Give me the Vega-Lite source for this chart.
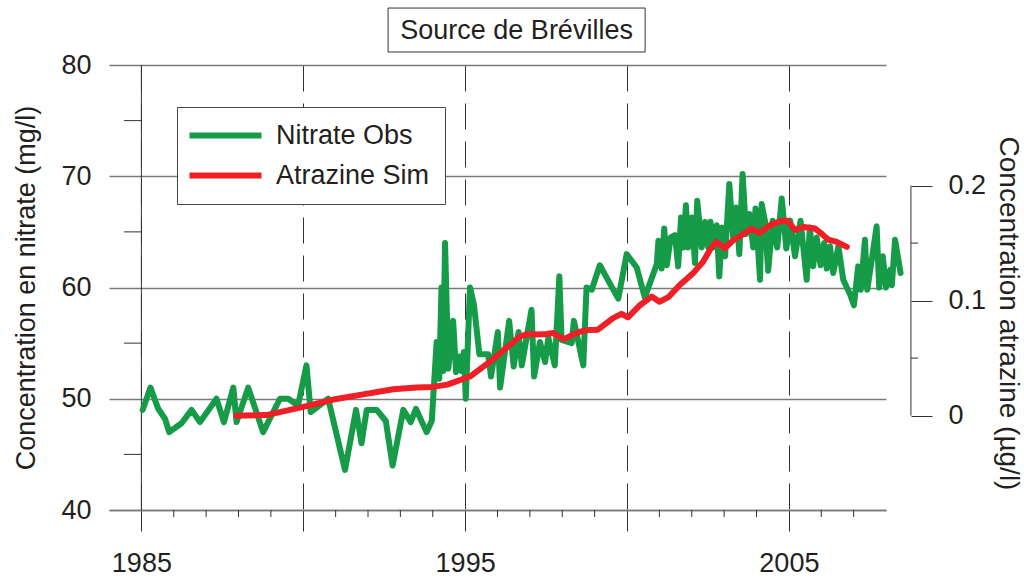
{
  "$schema": "https://vega.github.io/schema/vega-lite/v6.json",
  "width": 777,
  "height": 445,
  "autosize": {"type": "none"},
  "padding": {"left": 109, "top": 65, "right": 138, "bottom": 69},
  "background": "white",
  "config": {
    "font": "Liberation Sans",
    "view": {"stroke": null},
    "axis": {"labelFont": "Liberation Sans", "titleFont": "Liberation Sans", "labelFontSize": 27, "titleFontSize": 27, "labelColor": "#231f20", "titleColor": "#231f20", "titleFontWeight": "normal"}
  },
  "datasets": {
    "nitrate": [
      {"t":1985.04,"n":49.0,"s":"Nitrate Obs"},{"t":1985.28,"n":51.0,"s":"Nitrate Obs"},{"t":1985.52,"n":49.1,"s":"Nitrate Obs"},{"t":1985.73,"n":48.2,"s":"Nitrate Obs"},{"t":1985.86,"n":47.0,"s":"Nitrate Obs"},{"t":1986.24,"n":47.8,"s":"Nitrate Obs"},{"t":1986.55,"n":49.0,"s":"Nitrate Obs"},{"t":1986.81,"n":47.9,"s":"Nitrate Obs"},{"t":1987.32,"n":50.0,"s":"Nitrate Obs"},{"t":1987.55,"n":47.9,"s":"Nitrate Obs"},{"t":1987.84,"n":51.0,"s":"Nitrate Obs"},{"t":1987.94,"n":47.9,"s":"Nitrate Obs"},{"t":1988.30,"n":51.0,"s":"Nitrate Obs"},{"t":1988.76,"n":47.0,"s":"Nitrate Obs"},{"t":1989.28,"n":50.0,"s":"Nitrate Obs"},{"t":1989.54,"n":50.0,"s":"Nitrate Obs"},{"t":1989.84,"n":49.4,"s":"Nitrate Obs"},{"t":1990.10,"n":53.0,"s":"Nitrate Obs"},{"t":1990.23,"n":48.8,"s":"Nitrate Obs"},{"t":1990.77,"n":50.0,"s":"Nitrate Obs"},{"t":1991.29,"n":43.6,"s":"Nitrate Obs"},{"t":1991.63,"n":49.0,"s":"Nitrate Obs"},{"t":1991.80,"n":46.0,"s":"Nitrate Obs"},{"t":1991.96,"n":49.0,"s":"Nitrate Obs"},{"t":1992.27,"n":49.0,"s":"Nitrate Obs"},{"t":1992.55,"n":48.0,"s":"Nitrate Obs"},{"t":1992.76,"n":44.0,"s":"Nitrate Obs"},{"t":1993.09,"n":49.0,"s":"Nitrate Obs"},{"t":1993.32,"n":47.9,"s":"Nitrate Obs"},{"t":1993.48,"n":49.1,"s":"Nitrate Obs"},{"t":1993.81,"n":47.0,"s":"Nitrate Obs"},{"t":1993.97,"n":48.0,"s":"Nitrate Obs"},{"t":1994.12,"n":55.1,"s":"Nitrate Obs"},{"t":1994.20,"n":51.8,"s":"Nitrate Obs"},{"t":1994.27,"n":60.0,"s":"Nitrate Obs"},{"t":1994.32,"n":52.5,"s":"Nitrate Obs"},{"t":1994.38,"n":64.0,"s":"Nitrate Obs"},{"t":1994.48,"n":52.7,"s":"Nitrate Obs"},{"t":1994.63,"n":57.0,"s":"Nitrate Obs"},{"t":1994.72,"n":52.4,"s":"Nitrate Obs"},{"t":1994.82,"n":53.8,"s":"Nitrate Obs"},{"t":1994.89,"n":52.5,"s":"Nitrate Obs"},{"t":1994.96,"n":54.2,"s":"Nitrate Obs"},{"t":1995.02,"n":50.0,"s":"Nitrate Obs"},{"t":1995.15,"n":60.0,"s":"Nitrate Obs"},{"t":1995.27,"n":58.5,"s":"Nitrate Obs"},{"t":1995.44,"n":54.0,"s":"Nitrate Obs"},{"t":1995.71,"n":54.0,"s":"Nitrate Obs"},{"t":1995.80,"n":52.0,"s":"Nitrate Obs"},{"t":1996.01,"n":56.0,"s":"Nitrate Obs"},{"t":1996.08,"n":51.0,"s":"Nitrate Obs"},{"t":1996.36,"n":57.0,"s":"Nitrate Obs"},{"t":1996.50,"n":52.9,"s":"Nitrate Obs"},{"t":1996.65,"n":56.0,"s":"Nitrate Obs"},{"t":1996.75,"n":53.0,"s":"Nitrate Obs"},{"t":1997.05,"n":58.0,"s":"Nitrate Obs"},{"t":1997.13,"n":52.0,"s":"Nitrate Obs"},{"t":1997.31,"n":55.1,"s":"Nitrate Obs"},{"t":1997.47,"n":53.3,"s":"Nitrate Obs"},{"t":1997.57,"n":55.5,"s":"Nitrate Obs"},{"t":1997.77,"n":53.0,"s":"Nitrate Obs"},{"t":1997.91,"n":61.0,"s":"Nitrate Obs"},{"t":1997.98,"n":55.3,"s":"Nitrate Obs"},{"t":1998.29,"n":55.0,"s":"Nitrate Obs"},{"t":1998.36,"n":57.0,"s":"Nitrate Obs"},{"t":1998.65,"n":53.0,"s":"Nitrate Obs"},{"t":1998.75,"n":60.0,"s":"Nitrate Obs"},{"t":1998.91,"n":59.8,"s":"Nitrate Obs"},{"t":1999.16,"n":62.0,"s":"Nitrate Obs"},{"t":1999.73,"n":59.0,"s":"Nitrate Obs"},{"t":1999.99,"n":63.0,"s":"Nitrate Obs"},{"t":2000.30,"n":61.8,"s":"Nitrate Obs"},{"t":2000.55,"n":59.1,"s":"Nitrate Obs"},{"t":2000.92,"n":62.1,"s":"Nitrate Obs"},{"t":2000.97,"n":64.2,"s":"Nitrate Obs"},{"t":2001.07,"n":61.7,"s":"Nitrate Obs"},{"t":2001.15,"n":65.3,"s":"Nitrate Obs"},{"t":2001.23,"n":62.0,"s":"Nitrate Obs"},{"t":2001.35,"n":64.5,"s":"Nitrate Obs"},{"t":2001.48,"n":64.7,"s":"Nitrate Obs"},{"t":2001.58,"n":61.9,"s":"Nitrate Obs"},{"t":2001.67,"n":66.3,"s":"Nitrate Obs"},{"t":2001.74,"n":63.6,"s":"Nitrate Obs"},{"t":2001.82,"n":67.4,"s":"Nitrate Obs"},{"t":2001.89,"n":63.6,"s":"Nitrate Obs"},{"t":2002.00,"n":66.3,"s":"Nitrate Obs"},{"t":2002.10,"n":62.2,"s":"Nitrate Obs"},{"t":2002.17,"n":67.8,"s":"Nitrate Obs"},{"t":2002.31,"n":63.6,"s":"Nitrate Obs"},{"t":2002.41,"n":65.9,"s":"Nitrate Obs"},{"t":2002.51,"n":63.6,"s":"Nitrate Obs"},{"t":2002.58,"n":65.9,"s":"Nitrate Obs"},{"t":2002.66,"n":63.6,"s":"Nitrate Obs"},{"t":2002.77,"n":65.6,"s":"Nitrate Obs"},{"t":2002.85,"n":61.0,"s":"Nitrate Obs"},{"t":2002.94,"n":65.4,"s":"Nitrate Obs"},{"t":2003.03,"n":62.8,"s":"Nitrate Obs"},{"t":2003.16,"n":69.3,"s":"Nitrate Obs"},{"t":2003.28,"n":64.5,"s":"Nitrate Obs"},{"t":2003.37,"n":67.2,"s":"Nitrate Obs"},{"t":2003.47,"n":63.0,"s":"Nitrate Obs"},{"t":2003.57,"n":70.2,"s":"Nitrate Obs"},{"t":2003.68,"n":64.8,"s":"Nitrate Obs"},{"t":2003.78,"n":66.6,"s":"Nitrate Obs"},{"t":2003.90,"n":63.6,"s":"Nitrate Obs"},{"t":2003.97,"n":67.1,"s":"Nitrate Obs"},{"t":2004.11,"n":60.7,"s":"Nitrate Obs"},{"t":2004.16,"n":67.5,"s":"Nitrate Obs"},{"t":2004.26,"n":66.0,"s":"Nitrate Obs"},{"t":2004.36,"n":61.5,"s":"Nitrate Obs"},{"t":2004.50,"n":66.0,"s":"Nitrate Obs"},{"t":2004.64,"n":63.6,"s":"Nitrate Obs"},{"t":2004.78,"n":68.0,"s":"Nitrate Obs"},{"t":2004.92,"n":63.5,"s":"Nitrate Obs"},{"t":2005.04,"n":66.0,"s":"Nitrate Obs"},{"t":2005.19,"n":62.8,"s":"Nitrate Obs"},{"t":2005.36,"n":66.0,"s":"Nitrate Obs"},{"t":2005.55,"n":60.7,"s":"Nitrate Obs"},{"t":2005.65,"n":65.4,"s":"Nitrate Obs"},{"t":2005.75,"n":61.9,"s":"Nitrate Obs"},{"t":2005.86,"n":64.5,"s":"Nitrate Obs"},{"t":2005.98,"n":62.0,"s":"Nitrate Obs"},{"t":2006.09,"n":64.0,"s":"Nitrate Obs"},{"t":2006.17,"n":61.7,"s":"Nitrate Obs"},{"t":2006.27,"n":63.7,"s":"Nitrate Obs"},{"t":2006.37,"n":61.3,"s":"Nitrate Obs"},{"t":2006.53,"n":63.7,"s":"Nitrate Obs"},{"t":2006.68,"n":60.7,"s":"Nitrate Obs"},{"t":2006.79,"n":60.0,"s":"Nitrate Obs"},{"t":2006.89,"n":59.4,"s":"Nitrate Obs"},{"t":2007.01,"n":58.4,"s":"Nitrate Obs"},{"t":2007.14,"n":61.9,"s":"Nitrate Obs"},{"t":2007.22,"n":59.8,"s":"Nitrate Obs"},{"t":2007.35,"n":64.3,"s":"Nitrate Obs"},{"t":2007.42,"n":59.8,"s":"Nitrate Obs"},{"t":2007.56,"n":62.5,"s":"Nitrate Obs"},{"t":2007.71,"n":65.5,"s":"Nitrate Obs"},{"t":2007.79,"n":60.0,"s":"Nitrate Obs"},{"t":2007.90,"n":62.8,"s":"Nitrate Obs"},{"t":2008.00,"n":60.0,"s":"Nitrate Obs"},{"t":2008.13,"n":61.6,"s":"Nitrate Obs"},{"t":2008.18,"n":60.2,"s":"Nitrate Obs"},{"t":2008.28,"n":64.3,"s":"Nitrate Obs"},{"t":2008.45,"n":61.3,"s":"Nitrate Obs"}
    ],
    "atrazine": [
      {"t":1987.94,"a":0.0,"s":"Atrazine Sim"},{"t":1988.86,"a":0.0005,"s":"Atrazine Sim"},{"t":1989.90,"a":0.007,"s":"Atrazine Sim"},{"t":1990.93,"a":0.014,"s":"Atrazine Sim"},{"t":1991.85,"a":0.0185,"s":"Atrazine Sim"},{"t":1992.78,"a":0.023,"s":"Atrazine Sim"},{"t":1993.50,"a":0.0245,"s":"Atrazine Sim"},{"t":1994.00,"a":0.025,"s":"Atrazine Sim"},{"t":1994.45,"a":0.027,"s":"Atrazine Sim"},{"t":1995.15,"a":0.034,"s":"Atrazine Sim"},{"t":1995.77,"a":0.047,"s":"Atrazine Sim"},{"t":1996.28,"a":0.059,"s":"Atrazine Sim"},{"t":1996.70,"a":0.069,"s":"Atrazine Sim"},{"t":1996.95,"a":0.071,"s":"Atrazine Sim"},{"t":1997.25,"a":0.0705,"s":"Atrazine Sim"},{"t":1997.52,"a":0.071,"s":"Atrazine Sim"},{"t":1997.72,"a":0.0718,"s":"Atrazine Sim"},{"t":1997.95,"a":0.068,"s":"Atrazine Sim"},{"t":1998.05,"a":0.0665,"s":"Atrazine Sim"},{"t":1998.30,"a":0.070,"s":"Atrazine Sim"},{"t":1998.55,"a":0.073,"s":"Atrazine Sim"},{"t":1998.80,"a":0.0745,"s":"Atrazine Sim"},{"t":1999.10,"a":0.0747,"s":"Atrazine Sim"},{"t":1999.57,"a":0.0848,"s":"Atrazine Sim"},{"t":1999.83,"a":0.0885,"s":"Atrazine Sim"},{"t":2000.03,"a":0.0855,"s":"Atrazine Sim"},{"t":2000.40,"a":0.096,"s":"Atrazine Sim"},{"t":2000.76,"a":0.1035,"s":"Atrazine Sim"},{"t":2001.00,"a":0.099,"s":"Atrazine Sim"},{"t":2001.28,"a":0.103,"s":"Atrazine Sim"},{"t":2001.63,"a":0.1136,"s":"Atrazine Sim"},{"t":2002.04,"a":0.1237,"s":"Atrazine Sim"},{"t":2002.35,"a":0.1337,"s":"Atrazine Sim"},{"t":2002.60,"a":0.146,"s":"Atrazine Sim"},{"t":2002.76,"a":0.151,"s":"Atrazine Sim"},{"t":2003.02,"a":0.1455,"s":"Atrazine Sim"},{"t":2003.28,"a":0.1525,"s":"Atrazine Sim"},{"t":2003.59,"a":0.1577,"s":"Atrazine Sim"},{"t":2003.84,"a":0.1626,"s":"Atrazine Sim"},{"t":2004.10,"a":0.1588,"s":"Atrazine Sim"},{"t":2004.41,"a":0.1654,"s":"Atrazine Sim"},{"t":2004.72,"a":0.169,"s":"Atrazine Sim"},{"t":2004.95,"a":0.1695,"s":"Atrazine Sim"},{"t":2005.19,"a":0.1615,"s":"Atrazine Sim"},{"t":2005.45,"a":0.164,"s":"Atrazine Sim"},{"t":2005.81,"a":0.1626,"s":"Atrazine Sim"},{"t":2006.02,"a":0.158,"s":"Atrazine Sim"},{"t":2006.22,"a":0.153,"s":"Atrazine Sim"},{"t":2006.48,"a":0.151,"s":"Atrazine Sim"},{"t":2006.79,"a":0.1467,"s":"Atrazine Sim"}
    ],
    "yminor": [{"v":45},{"v":55},{"v":65},{"v":75}],
    "xminor": [{"yr":1986},{"yr":1987},{"yr":1988},{"yr":1989},{"yr":1991},{"yr":1992},{"yr":1993},{"yr":1994},{"yr":1996},{"yr":1997},{"yr":1998},{"yr":1999},{"yr":2001},{"yr":2002},{"yr":2003},{"yr":2004},{"yr":2006},{"yr":2007}],
    "aminor": [{"v":0.05},{"v":0.15}]
  },
  "layer": [
    {
      "layer": [
        {
          "data": {"values": [{"label": "Source de Brévilles"}]},
          "mark": {"type": "rect", "fill": "white", "stroke": "#333333", "strokeWidth": 1},
          "encoding": {
            "x": {"datum": 1992.62, "type": "quantitative"},
            "x2": {"datum": 2000.56},
            "y": {"datum": 85.12, "type": "quantitative"},
            "y2": {"datum": 81.17}
          }
        },
        {
          "data": {"values": [{"label": "Source de Brévilles"}]},
          "mark": {"type": "text", "font": "Liberation Sans", "fontSize": 27, "color": "#231f20", "align": "center", "baseline": "middle"},
          "encoding": {
            "x": {"datum": 1996.59, "type": "quantitative"},
            "y": {"datum": 83.1, "type": "quantitative"},
            "text": {"field": "label"}
          }
        },
        {
          "data": {"values": [{}]},
          "mark": {"type": "rule", "color": "#333333", "strokeWidth": 1},
          "encoding": {
            "x": {"datum": 1985, "type": "quantitative"},
            "y": {"datum": 40, "type": "quantitative"},
            "y2": {"datum": 80}
          }
        },
        {
          "data": {"name": "yminor"},
          "mark": {"type": "rule", "color": "#333333", "strokeWidth": 1},
          "encoding": {
            "x": {"datum": 1984.46, "type": "quantitative"},
            "x2": {"datum": 1985},
            "y": {"field": "v", "type": "quantitative"}
          }
        },
        {
          "data": {"name": "xminor"},
          "mark": {"type": "rule", "color": "#333333", "strokeWidth": 1},
          "encoding": {
            "x": {"field": "yr", "type": "quantitative"},
            "y": {"datum": 40, "type": "quantitative"},
            "y2": {"datum": 39.37}
          }
        },
        {
          "data": {"name": "nitrate"},
          "mark": {"type": "line", "strokeWidth": 6, "strokeCap": "round", "strokeJoin": "round"},
          "encoding": {
            "x": {
              "field": "t", "type": "quantitative",
              "scale": {"domain": [1984, 2008], "nice": false, "zero": false},
              "axis": {
                "orient": "bottom", "title": null,
                "values": [1985, 1990, 1995, 2000, 2005],
                "format": "d",
                "labelExpr": "datum.value % 10 === 5 ? datum.label : ''",
                "labelOverlap": false, "labelFlush": false,
                "domain": true, "domainColor": "#7a7a7a", "domainWidth": 1.6,
                "ticks": true, "tickColor": "#333333", "tickWidth": 1, "tickSize": 21,
                "grid": true, "gridColor": "#333333", "gridWidth": 1, "gridDash": [26, 12],
                "labelPadding": 19
              }
            },
            "y": {
              "field": "n", "type": "quantitative",
              "scale": {"domain": [40, 80], "nice": false, "zero": false},
              "axis": {
                "orient": "left", "values": [40, 50, 60, 70, 80],
                "domain": false, "ticks": false, "tickSize": 0,
                "grid": true, "gridColor": "#7a7a7a", "gridWidth": 1.6,
                "labelPadding": 18,
                "title": "Concentration en nitrate (mg/l)", "titlePadding": 20
              }
            },
            "color": {
              "field": "s", "type": "nominal",
              "scale": {"domain": ["Nitrate Obs", "Atrazine Sim"], "range": ["#169b48", "#ee1f26"]},
              "legend": {
                "orient": "none", "legendX": 68, "legendY": 42, "title": null,
                "strokeColor": "#444444", "fillColor": "white", "padding": 15,
                "symbolType": "M-6,0L6,0", "symbolSize": 144, "symbolStrokeWidth": 6,
                "symbolOffset": 20, "labelOffset": 37,
                "labelFont": "Liberation Sans", "labelFontSize": 27, "labelColor": "#231f20",
                "labelLimit": 400, "rowPadding": 12, "direction": "vertical"
              }
            }
          }
        }
      ]
    },
    {
      "layer": [
        {
          "data": {"name": "atrazine"},
          "mark": {"type": "line", "strokeWidth": 6, "strokeCap": "round", "strokeJoin": "round"},
          "encoding": {
            "x": {"field": "t", "type": "quantitative"},
            "y": {
              "field": "a", "type": "quantitative",
              "scale": {"domain": [-0.082, 0.3048], "nice": false, "zero": false},
              "axis": {
                "orient": "right", "offset": 25,
                "values": [0, 0.1, 0.2],
                "format": ".1~f",
                "domain": false, "grid": false,
                "ticks": true, "tickColor": "#333333", "tickWidth": 1, "tickSize": 21,
                "labelPadding": 16,
                "title": "Concentration atrazine (µg/l)", "titleFontSize": 28, "titlePadding": 8, "titleY": 248
              }
            },
            "color": {"field": "s", "type": "nominal"}
          }
        },
        {
          "data": {"values": [{}]},
          "mark": {"type": "rule", "color": "#333333", "strokeWidth": 1},
          "encoding": {
            "x": {"datum": 2008.77, "type": "quantitative"},
            "y": {"datum": 0, "type": "quantitative"},
            "y2": {"datum": 0.2}
          }
        },
        {
          "data": {"name": "aminor"},
          "mark": {"type": "rule", "color": "#333333", "strokeWidth": 1},
          "encoding": {
            "x": {"datum": 2008.77, "type": "quantitative"},
            "x2": {"datum": 2008.99},
            "y": {"field": "v", "type": "quantitative"}
          }
        }
      ]
    }
  ],
  "resolve": {"scale": {"y": "independent"}}
}
